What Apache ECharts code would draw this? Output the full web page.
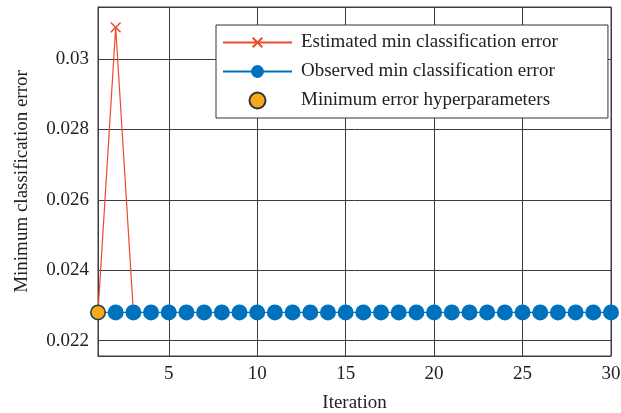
<!DOCTYPE html>
<html>
<head>
<meta charset="UTF-8">
<title>Minimum classification error</title>
<script type="text/javascript" src="https://cdn.jsdelivr.net/npm/echarts@6/dist/echarts.min.js"></script>
</head>
<body style="margin:0;">

<div id="box" style="width:621px;height:413px;"></div>

<script type="text/javascript">

// iterations 1..30
var iterations=[1,2,3,4,5,6,7,8,9,10,11,12,13,14,15,16,17,18,19,20,21,22,23,24,25,26,27,28,29,30];
// observed min classification error (flat)
var observed=[0.0228,0.0228,0.0228,0.0228,0.0228,0.0228,0.0228,0.0228,0.0228,0.0228,
              0.0228,0.0228,0.0228,0.0228,0.0228,0.0228,0.0228,0.0228,0.0228,0.0228,
              0.0228,0.0228,0.0228,0.0228,0.0228,0.0228,0.0228,0.0228,0.0228,0.0228];
// estimated min classification error (first iterations only)
var estIter=[1,2,3];
var estimated=[0.0228,0.0309,0.0228];
// best point
var bestIter=[1];
var bestVal=[0.0228];

var yTicks=[0.022,0.024,0.026,0.028,0.03];

var font='Liberation Serif';
var gridColor='#3c3c3c';
var textColor='#222';
// cross marker, drawn inside a padded box so the legend copy stays small
var crossPath='path://M0,0M20,20M2.5,2.5L17.5,17.5M17.5,2.5L2.5,17.5';

function pairs(xs,ys){
  var out=[];
  for(var i=0;i<xs.length;i++){ out.push([xs[i],ys[i]]); }
  return out;
}

var mychart=echarts.init(document.getElementById('box'));

var option={
  animation:false,
  backgroundColor:'#fff',
  grid:{
    left:98, top:7, right:10, bottom:57,
    outerBoundsMode:'none', containLabel:false,
    show:true, borderColor:gridColor, borderWidth:1
  },
  legend:{
    orient:'vertical',
    left:216, top:25,
    padding:[8,50,8,6],
    itemWidth:69, itemHeight:16, itemGap:10,
    borderColor:'#333', borderWidth:1,
    backgroundColor:'#fff',
    textStyle:{fontFamily:font, fontSize:19, color:textColor, lineHeight:18, padding:[0,0,0,4]},
    data:['Estimated min classification error','Observed min classification error','Minimum error hyperparameters']
  },
  xAxis:{
    type:'value', min:1, max:30,
    name:'Iteration', nameLocation:'middle', nameGap:38,
    nameTextStyle:{fontFamily:font, fontSize:19, color:textColor},
    axisLine:{lineStyle:{color:gridColor}},
    axisTick:{inside:true, length:5, lineStyle:{color:gridColor}},
    axisLabel:{fontFamily:font, fontSize:19, color:textColor, margin:9, showMinLabel:false},
    splitLine:{show:true, lineStyle:{color:gridColor, width:1}}
  },
  yAxis:{
    type:'value', min:0.02156, max:0.03148, splitNumber:5,
    name:'Minimum classification error', nameLocation:'middle', nameGap:66,
    nameTextStyle:{fontFamily:font, fontSize:19, color:textColor},
    axisLine:{show:true, lineStyle:{color:gridColor}},
    axisTick:{show:true, inside:true, length:5, lineStyle:{color:gridColor}},
    axisLabel:{
      fontFamily:font, fontSize:19, color:textColor, margin:9,
      showMinLabel:false, showMaxLabel:false,
      formatter:function(v){
        for(var i=0;i<yTicks.length;i++){
          if(Math.abs(v-yTicks[i])<1e-7) return String(yTicks[i]);
        }
        return '';
      }
    },
    splitLine:{show:true, lineStyle:{color:gridColor, width:1}}
  },
  series:[{
    name:'Estimated min classification error',
    type:'line',
    data:pairs(estIter,estimated),
    symbol:crossPath,
    symbolSize:13,
    showAllSymbol:true,
    lineStyle:{color:'#ee4b2b', width:1.2},
    itemStyle:{color:'none', borderColor:'#ee4b2b', borderWidth:1.5},
    z:2
  },{
    name:'Observed min classification error',
    type:'line',
    data:pairs(iterations,observed),
    symbol:'circle',
    symbolSize:16,
    showAllSymbol:true,
    lineStyle:{color:'#0072bd', width:1.2},
    itemStyle:{color:'#0072bd', borderWidth:0},
    z:3
  },{
    name:'Minimum error hyperparameters',
    type:'scatter',
    data:pairs(bestIter,bestVal),
    symbol:'circle',
    symbolSize:14,
    itemStyle:{color:'#f7a81b', borderColor:'#333', borderWidth:1.2, opacity:1},
    z:4
  }]
};

mychart.setOption(option);
</script>
</body>
</html>
